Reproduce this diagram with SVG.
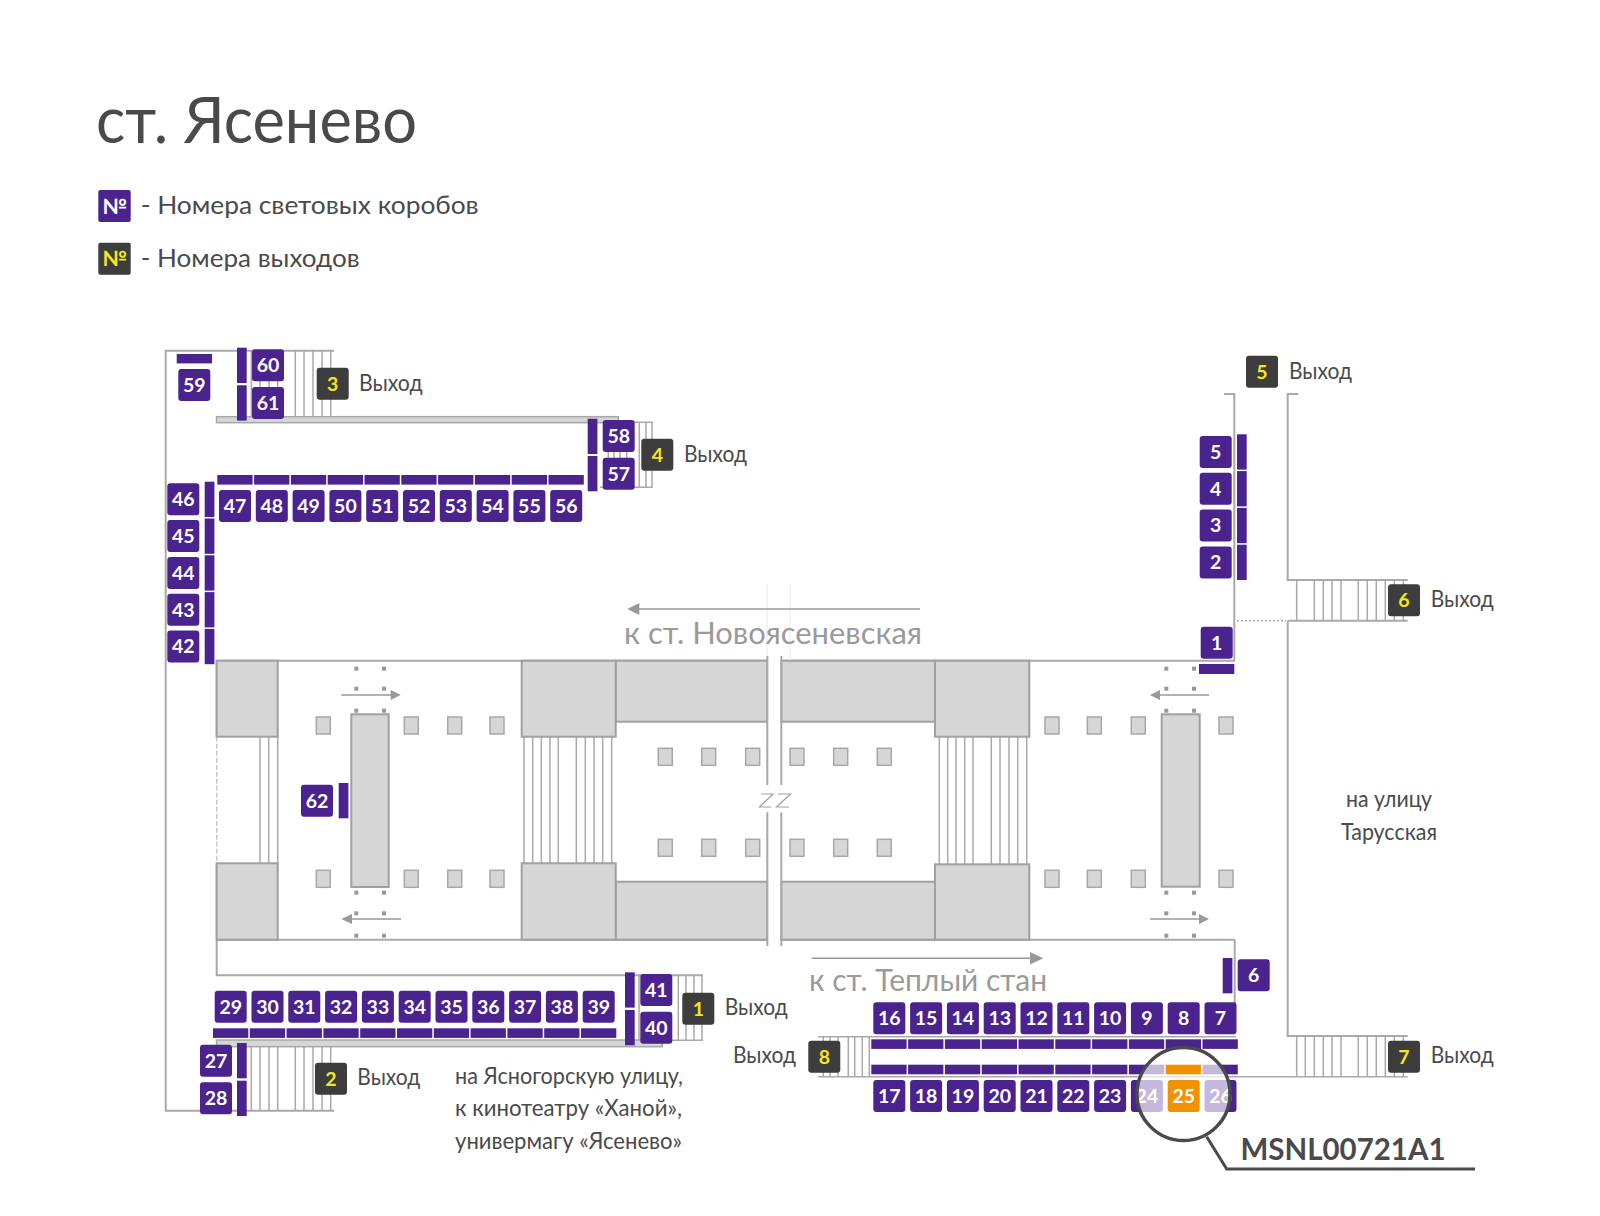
<svg xmlns="http://www.w3.org/2000/svg" width="1600" height="1216" viewBox="0 0 1600 1216">
<style>
text{font-family:"Lato","Noto Sans","Liberation Sans",sans-serif}
.w{fill:none;stroke:#a9a9a9;stroke-width:2}
.s{fill:none;stroke:#a9a9a9;stroke-width:1.5}
.g{fill:#d6d6d6;stroke:#a0a0a0;stroke-width:2}
.p{fill:#d6d6d6;stroke:#a8a8a8;stroke-width:1.5}
.d{fill:#999}
.a{fill:none;stroke:#999;stroke-width:1.5}
.ah{fill:#999}
.n{font-size:19.5px;font-weight:700;fill:#fff;text-anchor:middle}
.y{font-size:19.5px;font-weight:700;fill:#f6e61e;text-anchor:middle}
.t{font-size:23px;fill:#4a4a4a}
.l{font-size:25px;fill:#4a4a4a}
.dir{font-size:31px;fill:#9a9a9a}
.pur{fill:#4a238f}
.org{fill:#f39200}
.dk{fill:#3d3d3d}
</style>
<defs>
<rect id="b" width="32" height="32" rx="3"/>
<rect id="h" width="35.3" height="9.6"/>
<rect id="v" width="9.7" height="35.3"/>
<rect id="pl" width="14" height="17"/>
<rect id="dt" x="-2" y="-2" width="4" height="4"/>
</defs>
<rect width="1600" height="1216" fill="#fff"/>

<g id="title">
<text x="96" y="143" font-size="63" fill="#4a4a4a" textLength="321" lengthAdjust="spacingAndGlyphs">ст. Ясенево</text>
</g>
<g id="legend">
<rect x="98.3" y="190" width="32.4" height="32" rx="2" class="pur"/>
<text x="114.5" y="213.5" font-size="21" font-weight="700" fill="#fff" text-anchor="middle">№</text>
<text x="140.7" y="214" class="l" textLength="338" lengthAdjust="spacingAndGlyphs">- Номера световых коробов</text>
<rect x="98.3" y="242.7" width="32.4" height="32" rx="2" class="dk"/>
<text x="114.5" y="266.2" font-size="21" font-weight="700" fill="#f6e61e" text-anchor="middle">№</text>
<text x="140.7" y="266.7" class="l" textLength="219" lengthAdjust="spacingAndGlyphs">- Номера выходов</text>
</g>

<g id="plan">
<path class="w" d="M334 350.7H165.7V1110.7H334"/>
<path class="w" d="M216.7 660.7V736.7M216.7 863.3V975.3H703M216.7 660.7H767.3M781.3 660.7H1235M1235 939.7H781.3M767.3 939.7H216.7"/>
<path d="M216.7 736.7V863.3" fill="none" stroke="#c8c8c8" stroke-width="1.5" stroke-dasharray="5 2"/>
<path class="w" d="M1224 394H1234.3V660.7M1234.7 939.7V1004M1298.3 394H1287.7V580H1407.7M1287.7 620.7H1407.7M1287.7 620.7V1036H1407.7"/>
<path class="s" d="M818 1036.7H1236M818 1076.7H1407.7"/>
<path d="M1237 620.7H1286" fill="none" stroke="#a9a9a9" stroke-width="1.5" stroke-dasharray="2 2"/>
<path class="s" d="M251.3 351V417M260 351V417M269 351V417M277.7 351V417M295.3 351V417M304 351V417M313 351V417M322 351V417M330.7 351V417"/>
<path class="s" d="M251.3 1046V1110M260 1046V1110M269 1046V1110M277.7 1046V1110M295.3 1046V1110M304 1046V1110M313 1046V1110M322 1046V1110M330.7 1046V1110"/>
<path class="s" d="M600 422.3H653M600 487.3H653M608.3 422.3V487.3M614 422.3V487.3M620 422.3V487.3M626.7 422.3V487.3M639.3 422.3V487.3M646 422.3V487.3M652 422.3V487.3"/>
<path class="s" d="M639 975.3V1040M678.3 975.3V1040M686 975.3V1040M694 975.3V1040M702 975.3V1040M639 1040.3H703"/>
<path class="s" d="M1296.7 580V620.7M1314.3 580V620.7M1323.3 580V620.7M1332 580V620.7M1341 580V620.7M1358.3 580V620.7M1367.3 580V620.7M1376.3 580V620.7M1385.3 580V620.7M1394.3 580V620.7M1403.3 580V620.7"/>
<path class="s" d="M1296.7 1036V1076.7M1305.3 1036V1076.7M1314.3 1036V1076.7M1323.3 1036V1076.7M1332 1036V1076.7M1341 1036V1076.7M1358.3 1036V1076.7M1367.3 1036V1076.7M1376.3 1036V1076.7M1385.3 1036V1076.7M1394.3 1036V1076.7M1403.3 1036V1076.7"/>
<path class="s" d="M823.3 1036.7V1076.7M830 1036.7V1076.7M838 1036.7V1076.7M848.3 1036.7V1076.7M854.7 1036.7V1076.7M862.3 1036.7V1076.7M869.3 1036.7V1076.7"/>
<rect class="p" x="216.5" y="416.7" width="401.8" height="6"/>
<rect class="p" x="216.5" y="1040" width="445.8" height="6.7"/>

<path class="s" d="M260 736.7V863.3M268.7 736.7V863.3M277.7 736.7V863.3M524 736.7V863.3M532.7 736.7V863.3M541.3 736.7V863.3M550 736.7V863.3M558.3 736.7V863.3M576.3 736.7V863.3M585.3 736.7V863.3M594 736.7V863.3M602.7 736.7V863.3M611.7 736.7V863.3M939.3 736.7V864M947.7 736.7V864M956 736.7V864M964.7 736.7V864M973 736.7V864M991.3 736.7V864M1000 736.7V864M1009 736.7V864M1017.7 736.7V864M1026.7 736.7V864"/>
<rect class="g" x="615.7" y="660.7" width="151.6" height="61"/>
<rect class="g" x="781.3" y="660.7" width="153.7" height="61"/>
<rect class="g" x="615.7" y="881.7" width="151.6" height="58"/>
<rect class="g" x="781.3" y="881.7" width="153.7" height="58"/>
<rect class="g" x="216.7" y="660.7" width="61" height="76"/>
<rect class="g" x="216.7" y="863.3" width="61" height="76.4"/>
<rect class="g" x="521.7" y="660.7" width="94" height="76"/>
<rect class="g" x="521.7" y="863.3" width="94" height="76.4"/>
<rect class="g" x="935" y="660.7" width="94.3" height="76"/>
<rect class="g" x="935" y="864.3" width="94.3" height="75.4"/>
<rect x="768.3" y="650" width="12" height="300" fill="#fff"/>
<path class="w" d="M767.3 656V785M781.3 656V785M767.3 812.3V946M781.3 812.3V946"/>
<path d="M767 584V656M790 584V660" fill="none" stroke="#f0f0f0" stroke-width="1.5"/>
<path d="M761 794H773L759.5 807H771.5M778 794H790.5L776.5 807H789" fill="none" stroke="#a0a0a0" stroke-width="1.2"/>
<g class="p">
<use href="#pl" x="658.3" y="748.3"/><use href="#pl" x="701.7" y="748.3"/><use href="#pl" x="745.7" y="748.3"/><use href="#pl" x="790" y="748.3"/><use href="#pl" x="833.7" y="748.3"/><use href="#pl" x="877.3" y="748.3"/>
<use href="#pl" x="658.3" y="839.3"/><use href="#pl" x="701.7" y="839.3"/><use href="#pl" x="745.7" y="839.3"/><use href="#pl" x="790" y="839.3"/><use href="#pl" x="833.7" y="839.3"/><use href="#pl" x="877.3" y="839.3"/>
<use href="#pl" x="316.3" y="717"/><use href="#pl" x="404.3" y="717"/><use href="#pl" x="447.7" y="717"/><use href="#pl" x="490" y="717"/>
<use href="#pl" x="316.3" y="870.3"/><use href="#pl" x="404.3" y="870.3"/><use href="#pl" x="447.7" y="870.3"/><use href="#pl" x="490" y="870.3"/>
<use href="#pl" x="1045" y="717"/><use href="#pl" x="1087.3" y="717"/><use href="#pl" x="1131.3" y="717"/><use href="#pl" x="1219" y="717"/>
<use href="#pl" x="1045" y="870.3"/><use href="#pl" x="1087.3" y="870.3"/><use href="#pl" x="1131.3" y="870.3"/><use href="#pl" x="1219" y="870.3"/>
</g>
<rect class="g" x="351.3" y="714.3" width="37.4" height="172.7"/>
<rect class="g" x="1161.7" y="714.3" width="38" height="172.4"/>
<g class="d">
<use href="#dt" x="356.3" y="668.7"/><use href="#dt" x="384" y="668.7"/><use href="#dt" x="356.3" y="688.7"/><use href="#dt" x="384" y="688.7"/><use href="#dt" x="356.3" y="710.7"/><use href="#dt" x="384" y="710.7"/>
<use href="#dt" x="356.3" y="892.7"/><use href="#dt" x="384" y="892.7"/><use href="#dt" x="356.3" y="913.3"/><use href="#dt" x="384" y="913.3"/><use href="#dt" x="356.3" y="935.7"/><use href="#dt" x="384" y="935.7"/>
<use href="#dt" x="1166.3" y="668.7"/><use href="#dt" x="1194" y="668.7"/><use href="#dt" x="1166.3" y="688.7"/><use href="#dt" x="1194" y="688.7"/><use href="#dt" x="1166.3" y="710.7"/><use href="#dt" x="1194" y="710.7"/>
<use href="#dt" x="1166.3" y="892.7"/><use href="#dt" x="1194" y="892.7"/><use href="#dt" x="1166.3" y="913.3"/><use href="#dt" x="1194" y="913.3"/><use href="#dt" x="1166.3" y="935.7"/><use href="#dt" x="1194" y="935.7"/>
</g>
</g>

<g id="connectors">
<path class="a" d="M341.3 695H392M352 919H401M1160 695H1209M1150 919H1200M638 609H920M811.7 958.3H1032"/>
<path class="ah" d="M400.7 695L390.7 690V700ZM341.3 919L352 914V924ZM1150 695L1160 690V700ZM1209 919L1199 914V924ZM627.3 609L639.3 603V615ZM1043.3 958.3L1030 952V964.6Z"/>
</g>

<g id="directions">
<text x="624" y="644.3" class="dir" textLength="298" lengthAdjust="spacingAndGlyphs">к ст. Новоясеневская</text>
<text x="809" y="991" class="dir" textLength="238" lengthAdjust="spacingAndGlyphs">к ст. Теплый стан</text>
<text x="1346" y="806.7" class="t" textLength="86" lengthAdjust="spacingAndGlyphs">на улицу</text>
<text x="1341" y="840" class="t" textLength="96" lengthAdjust="spacingAndGlyphs">Тарусская</text>
<text x="455" y="1084" class="t" textLength="228" lengthAdjust="spacingAndGlyphs">на Ясногорскую улицу,</text>
<text x="455" y="1116" class="t" textLength="227" lengthAdjust="spacingAndGlyphs">к кинотеатру «Ханой»,</text>
<text x="455" y="1149" class="t" textLength="227" lengthAdjust="spacingAndGlyphs">универмагу «Ясенево»</text>
</g>

<g id="exits">
<g id="exit-1"><use href="#b" class="dk" x="682.3" y="992.7"/><text x="698.3" y="1015.5" class="y">1</text><text x="724.7" y="1015" class="t" textLength="63" lengthAdjust="spacingAndGlyphs">Выход</text></g>
<g id="exit-2"><use href="#b" class="dk" x="315" y="1062.7"/><text x="331" y="1085.5" class="y">2</text><text x="357.3" y="1085" class="t" textLength="63" lengthAdjust="spacingAndGlyphs">Выход</text></g>
<g id="exit-3"><use href="#b" class="dk" x="316.7" y="367.7"/><text x="332.7" y="390.5" class="y">3</text><text x="359" y="391" class="t" textLength="63.5" lengthAdjust="spacingAndGlyphs">Выход</text></g>
<g id="exit-4"><use href="#b" class="dk" x="641.3" y="438.7"/><text x="657.3" y="461.5" class="y">4</text><text x="684" y="462" class="t" textLength="63" lengthAdjust="spacingAndGlyphs">Выход</text></g>
<g id="exit-5"><use href="#b" class="dk" x="1246" y="355.7"/><text x="1262" y="378.5" class="y">5</text><text x="1289" y="379" class="t" textLength="63" lengthAdjust="spacingAndGlyphs">Выход</text></g>
<g id="exit-6"><use href="#b" class="dk" x="1388" y="584.3"/><text x="1404" y="607" class="y">6</text><text x="1430.7" y="607.3" class="t" textLength="63" lengthAdjust="spacingAndGlyphs">Выход</text></g>
<g id="exit-7"><use href="#b" class="dk" x="1388" y="1040.7"/><text x="1404" y="1063.5" class="y">7</text><text x="1430.7" y="1063.3" class="t" textLength="63" lengthAdjust="spacingAndGlyphs">Выход</text></g>
<g id="exit-8"><use href="#b" class="dk" x="808.3" y="1040.7"/><text x="824.3" y="1063.5" class="y">8</text><text x="733" y="1063" class="t" textLength="63" lengthAdjust="spacingAndGlyphs">Выход</text></g>
</g>

<g id="boxes" class="pur">
<g id="box-1"><use href="#b" x="1200.7" y="626.7"/><rect x="1199" y="664" width="35.3" height="10"/><text x="1216.7" y="649.5" class="n">1</text></g>
<g id="box-2"><use href="#b" x="1199.7" y="546.4"/><use href="#v" x="1237" y="544.7"/><text x="1215.7" y="569.2" class="n">2</text></g>
<g id="box-3"><use href="#b" x="1199.7" y="509.6"/><use href="#v" x="1237" y="507.9"/><text x="1215.7" y="532.4" class="n">3</text></g>
<g id="box-4"><use href="#b" x="1199.7" y="472.8"/><use href="#v" x="1237" y="471.1"/><text x="1215.7" y="495.6" class="n">4</text></g>
<g id="box-5"><use href="#b" x="1199.7" y="436"/><use href="#v" x="1237" y="434.3"/><text x="1215.7" y="458.8" class="n">5</text></g>
<g id="box-6"><use href="#b" x="1237.7" y="959.3"/><use href="#v" x="1222.7" y="958"/><text x="1253.7" y="982" class="n">6</text></g>
<g id="box-7"><use href="#b" x="1204.5" y="1002.3"/><use href="#h" x="1202.5" y="1039.3"/><text x="1220.5" y="1025" class="n">7</text></g>
<g id="box-8"><use href="#b" x="1167.7" y="1002.3"/><use href="#h" x="1165.7" y="1039.3"/><text x="1183.7" y="1025" class="n">8</text></g>
<g id="box-9"><use href="#b" x="1130.9" y="1002.3"/><use href="#h" x="1128.9" y="1039.3"/><text x="1146.9" y="1025" class="n">9</text></g>
<g id="box-10"><use href="#b" x="1094.1" y="1002.3"/><use href="#h" x="1092.1" y="1039.3"/><text x="1110.1" y="1025" class="n">10</text></g>
<g id="box-11"><use href="#b" x="1057.3" y="1002.3"/><use href="#h" x="1055.3" y="1039.3"/><text x="1073.3" y="1025" class="n">11</text></g>
<g id="box-12"><use href="#b" x="1020.5" y="1002.3"/><use href="#h" x="1018.5" y="1039.3"/><text x="1036.5" y="1025" class="n">12</text></g>
<g id="box-13"><use href="#b" x="983.7" y="1002.3"/><use href="#h" x="981.7" y="1039.3"/><text x="999.7" y="1025" class="n">13</text></g>
<g id="box-14"><use href="#b" x="946.9" y="1002.3"/><use href="#h" x="944.9" y="1039.3"/><text x="962.9" y="1025" class="n">14</text></g>
<g id="box-15"><use href="#b" x="910.1" y="1002.3"/><use href="#h" x="908.1" y="1039.3"/><text x="926.1" y="1025" class="n">15</text></g>
<g id="box-16"><use href="#b" x="873.3" y="1002.3"/><use href="#h" x="871.3" y="1039.3"/><text x="889.3" y="1025" class="n">16</text></g>
<g id="box-17"><use href="#b" x="873.3" y="1080"/><use href="#h" x="871.3" y="1064.7"/><text x="889.3" y="1103" class="n">17</text></g>
<g id="box-18"><use href="#b" x="910.1" y="1080"/><use href="#h" x="908.1" y="1064.7"/><text x="926.1" y="1103" class="n">18</text></g>
<g id="box-19"><use href="#b" x="946.9" y="1080"/><use href="#h" x="944.9" y="1064.7"/><text x="962.9" y="1103" class="n">19</text></g>
<g id="box-20"><use href="#b" x="983.7" y="1080"/><use href="#h" x="981.7" y="1064.7"/><text x="999.7" y="1103" class="n">20</text></g>
<g id="box-21"><use href="#b" x="1020.5" y="1080"/><use href="#h" x="1018.5" y="1064.7"/><text x="1036.5" y="1103" class="n">21</text></g>
<g id="box-22"><use href="#b" x="1057.3" y="1080"/><use href="#h" x="1055.3" y="1064.7"/><text x="1073.3" y="1103" class="n">22</text></g>
<g id="box-23"><use href="#b" x="1094.1" y="1080"/><use href="#h" x="1092.1" y="1064.7"/><text x="1110.1" y="1103" class="n">23</text></g>
<g id="box-24"><use href="#b" x="1130.9" y="1080"/><use href="#h" x="1128.9" y="1064.7"/><text x="1146.9" y="1103" class="n">24</text></g>
<g id="box-26"><use href="#b" x="1204.5" y="1080"/><use href="#h" x="1202.5" y="1064.7"/><text x="1220.5" y="1103" class="n">26</text></g>
<g id="box-27"><use href="#b" x="200" y="1044.7"/><use href="#v" x="237" y="1043"/><text x="216" y="1067.5" class="n">27</text></g>
<g id="box-28"><use href="#b" x="200" y="1082.3"/><use href="#v" x="237" y="1080.7"/><text x="216" y="1105" class="n">28</text></g>
<g id="box-29"><use href="#b" x="214.7" y="990.7"/><use href="#h" x="213" y="1028.3"/><text x="230.7" y="1013.5" class="n">29</text></g>
<g id="box-30"><use href="#b" x="251.5" y="990.7"/><use href="#h" x="249.8" y="1028.3"/><text x="267.5" y="1013.5" class="n">30</text></g>
<g id="box-31"><use href="#b" x="288.3" y="990.7"/><use href="#h" x="286.6" y="1028.3"/><text x="304.3" y="1013.5" class="n">31</text></g>
<g id="box-32"><use href="#b" x="325.1" y="990.7"/><use href="#h" x="323.4" y="1028.3"/><text x="341.1" y="1013.5" class="n">32</text></g>
<g id="box-33"><use href="#b" x="361.9" y="990.7"/><use href="#h" x="360.2" y="1028.3"/><text x="377.9" y="1013.5" class="n">33</text></g>
<g id="box-34"><use href="#b" x="398.7" y="990.7"/><use href="#h" x="397" y="1028.3"/><text x="414.7" y="1013.5" class="n">34</text></g>
<g id="box-35"><use href="#b" x="435.5" y="990.7"/><use href="#h" x="433.8" y="1028.3"/><text x="451.5" y="1013.5" class="n">35</text></g>
<g id="box-36"><use href="#b" x="472.3" y="990.7"/><use href="#h" x="470.6" y="1028.3"/><text x="488.3" y="1013.5" class="n">36</text></g>
<g id="box-37"><use href="#b" x="509.1" y="990.7"/><use href="#h" x="507.4" y="1028.3"/><text x="525.1" y="1013.5" class="n">37</text></g>
<g id="box-38"><use href="#b" x="545.9" y="990.7"/><use href="#h" x="544.2" y="1028.3"/><text x="561.9" y="1013.5" class="n">38</text></g>
<g id="box-39"><use href="#b" x="582.7" y="990.7"/><use href="#h" x="581" y="1028.3"/><text x="598.7" y="1013.5" class="n">39</text></g>
<g id="box-40"><use href="#b" x="640.3" y="1011.7"/><use href="#v" x="625" y="1010"/><text x="656.3" y="1034.5" class="n">40</text></g>
<g id="box-41"><use href="#b" x="640.3" y="974"/><use href="#v" x="625" y="972.3"/><text x="656.3" y="997" class="n">41</text></g>
<g id="box-42"><use href="#b" x="167.3" y="630.5"/><use href="#v" x="204.7" y="628.9"/><text x="183.3" y="653.3" class="n">42</text></g>
<g id="box-43"><use href="#b" x="167.3" y="593.7"/><use href="#v" x="204.7" y="592.1"/><text x="183.3" y="616.5" class="n">43</text></g>
<g id="box-44"><use href="#b" x="167.3" y="556.9"/><use href="#v" x="204.7" y="555.3"/><text x="183.3" y="579.7" class="n">44</text></g>
<g id="box-45"><use href="#b" x="167.3" y="520.1"/><use href="#v" x="204.7" y="518.5"/><text x="183.3" y="542.9" class="n">45</text></g>
<g id="box-46"><use href="#b" x="167.3" y="483.3"/><use href="#v" x="204.7" y="481.7"/><text x="183.3" y="506.1" class="n">46</text></g>
<g id="box-47"><use href="#b" x="219" y="490"/><use href="#h" x="217.3" y="475"/><text x="235" y="513" class="n">47</text></g>
<g id="box-48"><use href="#b" x="255.8" y="490"/><use href="#h" x="254.1" y="475"/><text x="271.8" y="513" class="n">48</text></g>
<g id="box-49"><use href="#b" x="292.6" y="490"/><use href="#h" x="290.9" y="475"/><text x="308.6" y="513" class="n">49</text></g>
<g id="box-50"><use href="#b" x="329.4" y="490"/><use href="#h" x="327.7" y="475"/><text x="345.4" y="513" class="n">50</text></g>
<g id="box-51"><use href="#b" x="366.2" y="490"/><use href="#h" x="364.5" y="475"/><text x="382.2" y="513" class="n">51</text></g>
<g id="box-52"><use href="#b" x="403" y="490"/><use href="#h" x="401.3" y="475"/><text x="419" y="513" class="n">52</text></g>
<g id="box-53"><use href="#b" x="439.8" y="490"/><use href="#h" x="438.1" y="475"/><text x="455.8" y="513" class="n">53</text></g>
<g id="box-54"><use href="#b" x="476.6" y="490"/><use href="#h" x="474.9" y="475"/><text x="492.6" y="513" class="n">54</text></g>
<g id="box-55"><use href="#b" x="513.4" y="490"/><use href="#h" x="511.7" y="475"/><text x="529.4" y="513" class="n">55</text></g>
<g id="box-56"><use href="#b" x="550.2" y="490"/><use href="#h" x="548.5" y="475"/><text x="566.2" y="513" class="n">56</text></g>
<g id="box-57"><use href="#b" x="602.7" y="457.7"/><use href="#v" x="587.7" y="456"/><text x="618.7" y="480.5" class="n">57</text></g>
<g id="box-58"><use href="#b" x="602.7" y="420"/><use href="#v" x="587.7" y="418.7"/><text x="618.7" y="443" class="n">58</text></g>
<g id="box-59"><use href="#b" x="178.3" y="369"/><rect x="176.7" y="354" width="35.3" height="9.4"/><text x="194.3" y="391.8" class="n">59</text></g>
<g id="box-60"><use href="#b" x="252" y="349.3"/><use href="#v" x="237" y="347.7"/><text x="268" y="372" class="n">60</text></g>
<g id="box-61"><use href="#b" x="252" y="387"/><use href="#v" x="237" y="385.3"/><text x="268" y="410" class="n">61</text></g>
<g id="box-62"><use href="#b" x="301" y="784.7"/><use href="#v" x="338.7" y="783"/><text x="317" y="807.5" class="n">62</text></g>
</g>

<g id="magnifier">
<circle cx="1183.5" cy="1094" r="46.5" fill="#fff" fill-opacity=".68"/>
<g id="box-25" class="org"><use href="#b" x="1167.7" y="1080"/><use href="#h" x="1165.7" y="1064.7"/><text x="1183.7" y="1103" class="n">25</text></g>
<circle cx="1183.5" cy="1094" r="46.5" fill="none" stroke="#4a4a4a" stroke-width="3.5"/>
<path d="M1206.7 1136.7L1226.7 1169H1475" fill="none" stroke="#4a4a4a" stroke-width="3"/>
<text x="1240.5" y="1160" font-size="31" font-weight="700" fill="#4a4a4a" textLength="205" lengthAdjust="spacingAndGlyphs">MSNL00721A1</text>
</g>
</svg>
